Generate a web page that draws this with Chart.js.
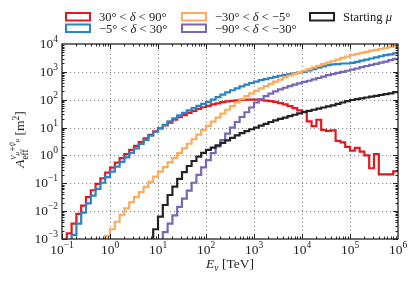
<!DOCTYPE html>
<html>
<head>
<meta charset="utf-8">
<script src="https://cdn.jsdelivr.net/npm/chart.js@4.4.1/dist/chart.umd.min.js"></script>
<style>
  html, body { margin: 0; padding: 0; background: #fff; }
  #wrap { width: 415px; height: 284px; }
</style>
</head>
<body>
<div id="wrap"><canvas id="aeffChart" width="415" height="284"></canvas></div>
<script>
// histogram bins: 10 per decade in E_nu, from 10^-1 to 10^6 TeV
var BIN_START = -1, BIN_WIDTH = 0.1, N_BINS = 70;
var binEdges = [];
for (var i = 0; i <= N_BINS; i++) binEdges.push(Math.pow(10, BIN_START + i * BIN_WIDTH));

var xTickExps = [-1, 0, 1, 2, 3, 4, 5, 6];
var yTickExps = [-3, -2, -1, 0, 1, 2, 3, 4];

var seriesLabels = ['30° < δ < 90°', '−5° < δ < 30°', '−30° < δ < −5°', '−90° < δ < −30°', 'Starting μ'];
var seriesColors = ['#e3191f', '#2b84c4', '#fdab5c', '#7866b6', '#222222'];

// log10(A_eff / m^2) per bin (null = no entry)
var north = [
  -3.2, -2.8, -2.45, -2.1, -1.8, -1.5, -1.25, -1.02, -0.82, -0.62,
  -0.44, -0.26, -0.1, 0.05, 0.2, 0.34, 0.48, 0.61, 0.74, 0.86,
  0.97, 1.08, 1.18, 1.28, 1.37, 1.45, 1.53, 1.6, 1.67, 1.73,
  1.78, 1.83, 1.87, 1.91, 1.94, 1.96, 1.98, 1.99, 2.0, 2.0,
  2.0, 1.99, 1.97, 1.95, 1.92, 1.88, 1.83, 1.77, 1.7, 1.62,
  1.55, 1.22, 1.05, 1.28, 0.92, 0.88, 0.9, 0.52, 0.47, 0.31,
  0.17, 0.27, 0.14, 0.0, -0.46, 0.05, -0.68, -0.68, -0.68, -0.57
];
var horizon = [
  null, -3.3, -2.85, -2.45, -2.05, -1.72, -1.44, -1.2, -0.98, -0.78,
  -0.58, -0.4, -0.23, -0.07, 0.09, 0.25, 0.41, 0.56, 0.71, 0.85,
  0.98, 1.1, 1.22, 1.33, 1.44, 1.53, 1.62, 1.7, 1.78, 1.85,
  1.92, 2.0, 2.09, 2.18, 2.26, 2.34, 2.41, 2.48, 2.54, 2.6,
  2.65, 2.7, 2.74, 2.78, 2.82, 2.86, 2.89, 2.92, 2.95, 2.98,
  3.0, 3.05, 3.1, 3.15, 3.2, 3.24, 3.27, 3.28, 3.3, 3.3,
  3.32, 3.36, 3.4, 3.44, 3.48, 3.52, 3.56, 3.6, 3.63, 3.66
];
var southMid = [
  null, null, null, null, null, null, null, null, -3.3, -2.9,
  -2.65, -2.38, -2.13, -1.9, -1.68, -1.5, -1.32, -1.13, -0.95, -0.76,
  -0.58, -0.42, -0.25, -0.09, 0.08, 0.25, 0.42, 0.58, 0.75, 0.91,
  1.06, 1.21, 1.36, 1.5, 1.64, 1.77, 1.9, 2.02, 2.13, 2.23,
  2.32, 2.41, 2.49, 2.57, 2.65, 2.72, 2.8, 2.87, 2.93, 2.99,
  3.04, 3.1, 3.16, 3.22, 3.28, 3.33, 3.38, 3.44, 3.5, 3.55,
  3.6, 3.64, 3.68, 3.72, 3.76, 3.79, 3.83, 3.86, 3.9, 3.93
];
var southDeep = [
  null, null, null, null, null, null, null, null, null, null,
  null, null, null, null, null, null, null, null, null, null,
  -3.3, -2.75, -2.45, -2.15, -1.85, -1.55, -1.26, -0.98, -0.7, -0.43,
  -0.17, 0.08, 0.32, 0.55, 0.78, 1.0, 1.2, 1.38, 1.55, 1.72,
  1.9, 2.02, 2.13, 2.22, 2.3, 2.37, 2.43, 2.49, 2.54, 2.59,
  2.64, 2.68, 2.73, 2.78, 2.83, 2.88, 2.92, 2.96, 3.0, 3.04,
  3.08, 3.12, 3.17, 3.21, 3.25, 3.29, 3.33, 3.37, 3.42, 3.47
];
var starting = [
  null, null, null, null, null, null, null, null, null, null,
  null, null, null, null, null, null, null, null, -3.3, -2.65,
  -2.2, -1.78, -1.42, -1.12, -0.84, -0.6, -0.38, -0.2, -0.04, 0.09,
  0.2, 0.28, 0.36, 0.45, 0.54, 0.63, 0.72, 0.8, 0.87, 0.94,
  1.0, 1.07, 1.13, 1.2, 1.26, 1.31, 1.36, 1.41, 1.46, 1.51,
  1.56, 1.6, 1.64, 1.68, 1.72, 1.76, 1.8, 1.85, 1.9, 1.95,
  1.99, 2.02, 2.05, 2.08, 2.11, 2.14, 2.17, 2.2, 2.23, 2.27
];
var allSeries = [north, horizon, southMid, southDeep, starting];

var SERIF = '"Liberation Serif", "DejaVu Serif", serif';

function toSteps(logVals) {
  var pts = [], last = -1;
  for (var i = 0; i < logVals.length; i++) {
    if (logVals[i] === null) continue;
    pts.push({ x: binEdges[i], y: Math.pow(10, logVals[i]) });
    last = i;
  }
  // close the last bin at its right edge
  pts.push({ x: binEdges[last + 1], y: Math.pow(10, logVals[last]) });
  return pts;
}

function fontOf(size, italic) {
  return (italic ? 'italic ' : '') + size + 'px ' + SERIF;
}

// segs: [text, size, italic, dy, noAdvance, bar]
function drawSegs(ctx, segs, x, y, align) {
  var total = 0, widths = [];
  segs.forEach(function (s) {
    ctx.font = fontOf(s[1], s[2]);
    var w = ctx.measureText(s[0]).width;
    widths.push(w);
    if (!s[4]) total += w;
  });
  var cx = x;
  if (align === 'center') cx = x - total / 2;
  if (align === 'right') cx = x - total;
  segs.forEach(function (s, k) {
    ctx.font = fontOf(s[1], s[2]);
    ctx.fillText(s[0], cx, y + (s[3] || 0));
    if (s[5]) {
      var by = y + (s[3] || 0) - s[1] * 0.62;
      ctx.beginPath();
      ctx.lineWidth = 0.7;
      ctx.moveTo(cx + 1, by);
      ctx.lineTo(cx + widths[k], by);
      ctx.stroke();
    }
    if (!s[4]) cx += widths[k];
  });
  return total;
}

function mathSegs(str, size) {
  var segs = [], buf = '';
  for (var i = 0; i < str.length; i++) {
    var c = str[i];
    if (c === 'δ' || c === 'μ') {
      if (buf) segs.push([buf, size, false, 0]);
      buf = '';
      segs.push([c, size, true, 0]);
    } else {
      buf += c;
    }
  }
  if (buf) segs.push([buf, size, false, 0]);
  return segs;
}

function drawPow(ctx, exp, x, y, align) {
  var e = exp < 0 ? '−' + (-exp) : String(exp);
  return drawSegs(ctx, [['10', 13.5, false, 0], [e, 9.5, false, -6]], x, y, align);
}

var decorPlugin = {
  id: 'decor',
  beforeDatasetsDraw: function (chart) {
    var ctx = chart.ctx, a = chart.chartArea, xs = chart.scales.x, ys = chart.scales.y;
    ctx.save();
    ctx.strokeStyle = '#8c8c8c';
    ctx.lineWidth = 1;
    ctx.setLineDash([1.2, 2.8]);
    xTickExps.forEach(function (e) {
      var px = Math.round(xs.getPixelForValue(Math.pow(10, e))) + 0.5;
      if (px < a.left + 2 || px > a.right - 2) return;
      ctx.beginPath(); ctx.moveTo(px, a.bottom); ctx.lineTo(px, a.top); ctx.stroke();
    });
    yTickExps.forEach(function (e) {
      var py = Math.round(ys.getPixelForValue(Math.pow(10, e))) + 0.5;
      if (py < a.top + 2 || py > a.bottom - 2) return;
      ctx.beginPath(); ctx.moveTo(a.left, py); ctx.lineTo(a.right, py); ctx.stroke();
    });
    ctx.restore();
  },
  afterDatasetsDraw: function (chart) {
    var ctx = chart.ctx, a = chart.chartArea, xs = chart.scales.x, ys = chart.scales.y;
    ctx.save();
    ctx.strokeStyle = '#222';
    ctx.fillStyle = '#222';

    // inward ticks on all four sides
    ctx.lineWidth = 1;
    for (var d = xTickExps[0]; d < xTickExps[xTickExps.length - 1]; d++) {
      for (var k = 1; k <= 9; k++) {
        var px = Math.round(xs.getPixelForValue(k * Math.pow(10, d))) + 0.5;
        var len = k === 1 ? 5 : 2.5;
        ctx.beginPath();
        ctx.moveTo(px, a.bottom); ctx.lineTo(px, a.bottom - len);
        ctx.moveTo(px, a.top); ctx.lineTo(px, a.top + len);
        ctx.stroke();
      }
    }
    for (var d2 = yTickExps[0]; d2 < yTickExps[yTickExps.length - 1]; d2++) {
      for (var k2 = 1; k2 <= 9; k2++) {
        var py = Math.round(ys.getPixelForValue(k2 * Math.pow(10, d2))) + 0.5;
        var len2 = k2 === 1 ? 5 : 2.5;
        ctx.beginPath();
        ctx.moveTo(a.left, py); ctx.lineTo(a.left + len2, py);
        ctx.moveTo(a.right, py); ctx.lineTo(a.right - len2, py);
        ctx.stroke();
      }
    }

    // frame
    ctx.lineWidth = 1.3;
    ctx.strokeRect(a.left, a.top, a.right - a.left, a.bottom - a.top);

    // tick labels
    ctx.textBaseline = 'alphabetic';
    xTickExps.forEach(function (e) {
      drawPow(ctx, e, xs.getPixelForValue(Math.pow(10, e)), a.bottom + 15, 'center');
    });
    yTickExps.forEach(function (e) {
      drawPow(ctx, e, a.left - 4, ys.getPixelForValue(Math.pow(10, e)) + 4, 'right');
    });

    // axis titles
    drawSegs(ctx, [['E', 13.5, true, 0], ['ν', 9.5, true, 3], [' [TeV]', 13.5, false, 0]],
      (a.left + a.right) / 2, 268, 'center');
    ctx.save();
    ctx.translate(24, (a.top + a.bottom) / 2 - 2);
    ctx.rotate(-Math.PI / 2);
    drawSegs(ctx, [
      ['A', 13.5, true, 0],
      ['eff', 9.5, false, 3.5, true],
      ['ν', 9.5, true, -8],
      ['μ', 7, true, -5],
      ['+', 9.5, false, -8],
      ['ν', 9.5, true, -8, false, true],
      ['μ', 7, true, -5],
      [' [m', 13.5, false, 0],
      ['2', 9.5, false, -5.5],
      [']', 13.5, false, 0]
    ], 0, 0, 'center');
    ctx.restore();

    // legend: open boxes like step-histogram handles
    var slots = [[66, 13], [66, 24.5], [182, 13], [182, 24.5], [310, 13]];
    seriesLabels.forEach(function (lab, n) {
      var bx = slots[n][0], by = slots[n][1];
      ctx.strokeStyle = seriesColors[n];
      ctx.lineWidth = 2;
      ctx.strokeRect(bx, by, 24, 7.5);
      ctx.fillStyle = '#222';
      drawSegs(ctx, mathSegs(lab, 12.5), bx + 33, by + 8, 'left');
    });
    ctx.restore();
  }
};

var datasets = allSeries.map(function (vals, n) {
  return {
    label: seriesLabels[n],
    data: toSteps(vals),
    borderColor: seriesColors[n],
    backgroundColor: seriesColors[n],
    borderWidth: 2.2,
    stepped: 'before',
    pointRadius: 0,
    fill: false,
    order: allSeries.length - n
  };
});

var chart = new Chart(document.getElementById('aeffChart').getContext('2d'), {
  type: 'line',
  data: { datasets: datasets },
  options: {
    responsive: false,
    animation: false,
    devicePixelRatio: 1,
    layout: { padding: { left: 0, right: 17, top: 44, bottom: 0 } },
    plugins: { legend: { display: false }, tooltip: { enabled: false } },
    scales: {
      x: {
        type: 'logarithmic', min: 0.1, max: 1e6,
        grid: { display: false }, border: { display: false }, ticks: { display: false },
        afterFit: function (s) { s.height = 45; }
      },
      y: {
        type: 'logarithmic', min: 1e-3, max: 1e4,
        grid: { display: false }, border: { display: false }, ticks: { display: false },
        afterFit: function (s) { s.width = 62; }
      }
    }
  },
  plugins: [decorPlugin]
});
</script>
</body>
</html>
